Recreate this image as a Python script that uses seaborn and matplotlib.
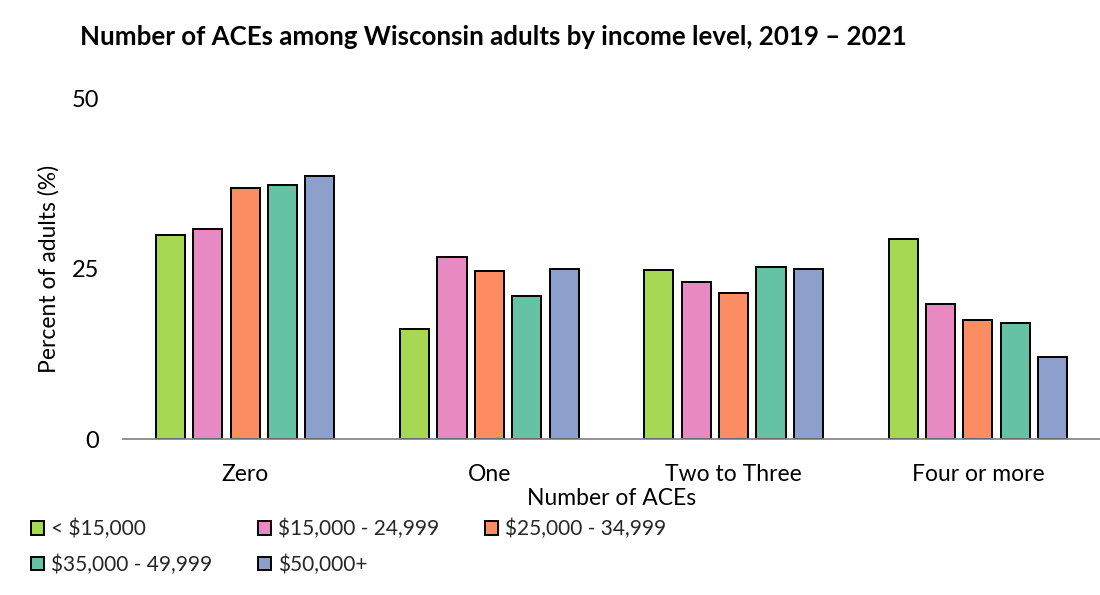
import matplotlib
matplotlib.use("Agg")
import matplotlib.pyplot as plt
import seaborn as sns
import pandas as pd

categories = ["Zero", "One", "Two to Three", "Four or more"]
income_levels = ["< $15,000", "$15,000 - 24,999", "$25,000 - 34,999",
                 "$35,000 - 49,999", "$50,000+"]
lt15 = [30.0, 16.2, 24.8, 29.4]
i15_25 = [30.8, 26.7, 23.1, 19.8]
i25_35 = [36.9, 24.7, 21.4, 17.5]
i35_50 = [37.3, 21.0, 25.2, 17.0]
i50plus = [38.6, 24.9, 25.0, 12.0]
colors = ["#a6d854", "#e78ac3", "#fc8d62", "#66c2a5", "#8da0cb"]

series = [lt15, i15_25, i25_35, i35_50, i50plus]
rows = []
for lvl, vals in zip(income_levels, series):
    for c, v in zip(categories, vals):
        rows.append({"ace": c, "pct": v, "income": lvl})
df = pd.DataFrame(rows)

sns.set_theme(style="white")
plt.rcParams["font.family"] = ["Lato", "DejaVu Sans"]

fig = plt.figure(figsize=(11, 5.95), dpi=100)
ax = fig.add_axes([0.1118, 0.2617, 0.8882, 0.5731])

sns.barplot(data=df, x="ace", y="pct", hue="income", order=categories,
            hue_order=income_levels, palette=colors, edgecolor="black",
            linewidth=1.4, width=0.765, gap=0.22, ax=ax, saturation=1)

ax.set_ylim(0, 50)
ax.set_xlim(-0.5, 3.5)
ax.set_yticks([0, 25, 50])
ax.tick_params(axis="y", length=0, pad=17, labelsize=17, colors="black")
ax.tick_params(axis="x", length=0, pad=18, labelsize=16.5, colors="black")
for s in ["top", "right", "left"]:
    ax.spines[s].set_visible(False)
ax.spines["bottom"].set_color("#7f7f7f")
ax.spines["bottom"].set_linewidth(1.2)
ax.set_xlabel("Number of ACEs", fontsize=16.5, color="black", labelpad=2)
ax.set_ylabel("Percent of adults (%)", fontsize=16.5, color="black", labelpad=9)

handles, labels = ax.get_legend_handles_labels()
ax.get_legend().remove()
# reorder so the legend fills row by row (matplotlib fills column by column)
order = [0, 3, 1, 4, 2]
fig.legend([handles[i] for i in order], [labels[i] for i in order],
           ncol=3, loc="upper left",
           bbox_to_anchor=(0.021, 0.142), frameon=False, fontsize=15,
           handlelength=0.62, handleheight=0.62, handletextpad=0.34,
           columnspacing=2.2, labelspacing=0.72, borderaxespad=0)

fig.text(0.073, 0.938, "Number of ACEs among Wisconsin adults by income level, 2019 \u2013 2021",
         fontsize=18.6, fontweight="bold", ha="left", va="center", color="black")

fig.savefig("out.png", dpi=100)
